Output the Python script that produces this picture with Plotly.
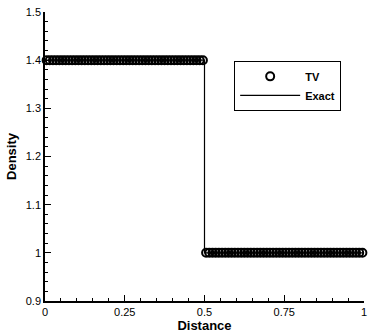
import plotly.graph_objects as go

# TV solution: cell centres and densities (100 cells)
tv_x = [0.005, 0.015, 0.025, 0.035, 0.045, 0.055, 0.065, 0.075, 0.085, 0.095,
        0.105, 0.115, 0.125, 0.135, 0.145, 0.155, 0.165, 0.175, 0.185, 0.195,
        0.205, 0.215, 0.225, 0.235, 0.245, 0.255, 0.265, 0.275, 0.285, 0.295,
        0.305, 0.315, 0.325, 0.335, 0.345, 0.355, 0.365, 0.375, 0.385, 0.395,
        0.405, 0.415, 0.425, 0.435, 0.445, 0.455, 0.465, 0.475, 0.485, 0.495,
        0.505, 0.515, 0.525, 0.535, 0.545, 0.555, 0.565, 0.575, 0.585, 0.595,
        0.605, 0.615, 0.625, 0.635, 0.645, 0.655, 0.665, 0.675, 0.685, 0.695,
        0.705, 0.715, 0.725, 0.735, 0.745, 0.755, 0.765, 0.775, 0.785, 0.795,
        0.805, 0.815, 0.825, 0.835, 0.845, 0.855, 0.865, 0.875, 0.885, 0.895,
        0.905, 0.915, 0.925, 0.935, 0.945, 0.955, 0.965, 0.975, 0.985, 0.995]
tv_density = [1.4, 1.4, 1.4, 1.4, 1.4, 1.4, 1.4, 1.4, 1.4, 1.4,
              1.4, 1.4, 1.4, 1.4, 1.4, 1.4, 1.4, 1.4, 1.4, 1.4,
              1.4, 1.4, 1.4, 1.4, 1.4, 1.4, 1.4, 1.4, 1.4, 1.4,
              1.4, 1.4, 1.4, 1.4, 1.4, 1.4, 1.4, 1.4, 1.4, 1.4,
              1.4, 1.4, 1.4, 1.4, 1.4, 1.4, 1.4, 1.4, 1.4, 1.4,
              1.0, 1.0, 1.0, 1.0, 1.0, 1.0, 1.0, 1.0, 1.0, 1.0,
              1.0, 1.0, 1.0, 1.0, 1.0, 1.0, 1.0, 1.0, 1.0, 1.0,
              1.0, 1.0, 1.0, 1.0, 1.0, 1.0, 1.0, 1.0, 1.0, 1.0,
              1.0, 1.0, 1.0, 1.0, 1.0, 1.0, 1.0, 1.0, 1.0, 1.0,
              1.0, 1.0, 1.0, 1.0, 1.0, 1.0, 1.0, 1.0, 1.0, 1.0]

# Exact solution (step)
exact_x = [0.0, 0.5, 0.5, 1.0]
exact_density = [1.4, 1.4, 1.0, 1.0]

x_tickvals = [0, 0.25, 0.5, 0.75, 1]
x_ticktext = ["0", "0.25", "0.5", "0.75", "1"]
y_tickvals = [0.9, 1.0, 1.1, 1.2, 1.3, 1.4, 1.5]
y_ticktext = ["0.9", "1", "1.1", "1.2", "1.3", "1.4", "1.5"]

FONT = "Liberation Sans, Arial, Helvetica, sans-serif"

fig = go.Figure()
fig.add_trace(go.Scatter(
    x=tv_x, y=tv_density, mode="markers", name="<b>TV</b>",
    marker=dict(symbol="circle-open", size=8, color="black",
                line=dict(width=2, color="black")),
    cliponaxis=False,
))
fig.add_trace(go.Scatter(
    x=exact_x, y=exact_density, mode="lines", name="<b>Exact</b>",
    line=dict(color="black", width=1.2),
    cliponaxis=False,
))

axis_common = dict(
    showgrid=False, zeroline=False, showline=True, linecolor="black",
    linewidth=1.5, ticks="inside", tickcolor="black", tickwidth=1,
    ticklen=6, mirror=False,
    tickfont=dict(family=FONT, size=11, color="black"),
)

fig.update_xaxes(
    range=[0, 1], tickmode="array", tickvals=x_tickvals, ticktext=x_ticktext,
    minor=dict(dtick=0.05, ticks="inside", ticklen=3, tickcolor="black", tickwidth=1),
    title=dict(text="<b>Distance</b>", font=dict(family=FONT, size=13, color="black"),
               standoff=2),
    **axis_common,
)
fig.update_yaxes(
    range=[0.9, 1.5], tickmode="array", tickvals=y_tickvals, ticktext=y_ticktext,
    minor=dict(dtick=0.02, ticks="inside", ticklen=3, tickcolor="black", tickwidth=1),
    title=dict(text="<b>Density</b>", font=dict(family=FONT, size=13, color="black"),
               standoff=6),
    ticklabelstandoff=0,
    **axis_common,
)

fig.update_layout(
    width=371, height=333,
    margin=dict(l=45, r=4, t=12, b=25),
    paper_bgcolor="white", plot_bgcolor="white",
    showlegend=True,
    legend=dict(
        x=0.593, y=0.831, xanchor="left", yanchor="top",
        bordercolor="black", borderwidth=1, bgcolor="white",
        font=dict(family=FONT, size=11, color="black"),
        itemwidth=60, tracegroupgap=0,
    ),
)

fig.write_html("out.html")
